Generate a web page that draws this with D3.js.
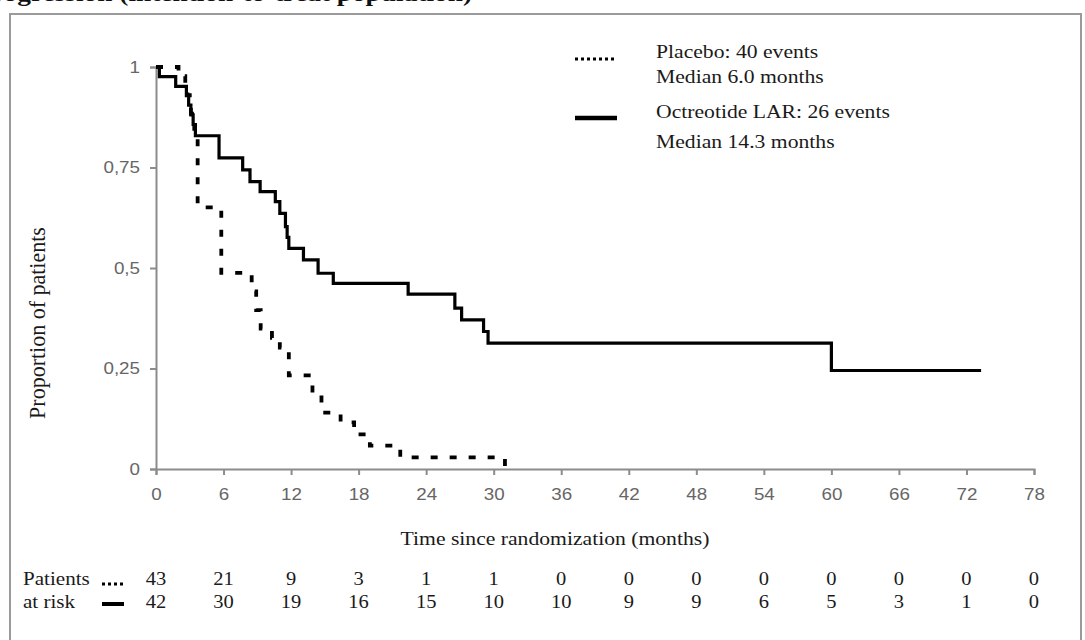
<!DOCTYPE html>
<html>
<head>
<meta charset="utf-8">
<script src="https://cdn.jsdelivr.net/npm/d3@7"></script>
<style>
  body { margin: 0; background: #fff; }
</style>
</head>
<body>
<div id="chart"></div>
<script>
const width = 1085
const height = 640
const margin = { left: 156, right: 51, top: 67, bottom: 171 }

// horizontal stretch of the scanned figure
const SX = 1.14
const serif = '"Liberation Serif", "Times New Roman", serif'
const sans = '"Liberation Sans", Arial, sans-serif'

// Kaplan-Meier steps (months, proportion)
const placeboTime = [0, 2.0, 2.6, 2.8, 3.0, 3.1, 3.2, 3.4, 3.7, 5.8, 8.5, 8.9, 9.3, 10.3, 11.0, 11.8, 13.9, 14.7, 16.4, 17.6, 19.0, 21.7, 31.0]
const placeboSurv = [1, .977, .953, .930, .907, .884, .860, .837, .651, .488, .442, .395, .349, .326, .302, .233, .186, .140, .116, .086, .058, .029, 0]
const placeboEnd = 31.3

const octreoTime = [0, 0.3, 1.75, 2.7, 2.9, 3.1, 3.3, 3.5, 5.6, 7.7, 8.35, 9.25, 10.6, 11.0, 11.5, 11.65, 11.8, 13.1, 14.4, 15.75, 22.4, 26.55, 27.15, 29.1, 29.5, 60]
const octreoSurv = [1, .976, .952, .929, .905, .881, .857, .829, .774, .744, .715, .690, .665, .636, .603, .576, .549, .520, .487, .462, .435, .400, .371, .342, .313, .245]
const octreoEnd = 73.3

const xTicks = [0, 6, 12, 18, 24, 30, 36, 42, 48, 54, 60, 66, 72, 78]
const yTicks = [0, 0.25, 0.5, 0.75, 1]
const riskPlacebo = [43, 21, 9, 3, 1, 1, 0, 0, 0, 0, 0, 0, 0, 0]
const riskOctreo = [42, 30, 19, 16, 15, 10, 10, 9, 9, 6, 5, 3, 1, 0]

const legendLines = [
    { dash: true, text: ["Placebo: 40 events", "Median 6.0 months"] },
    { dash: false, text: ["Octreotide LAR: 26 events", "Median 14.3 months"] }
]

const svg = d3.select("#chart").append("svg").attr("width", width).attr("height", height)
    .style("display", "block")

// outer frame
svg.append("rect")
    .attr("x", 10).attr("y", 14).attr("width", 1071).attr("height", 640)
    .attr("fill", "none").attr("stroke", "#9a9a9a").attr("stroke-width", 2)

// caption, cut off by the top edge as in the scan
svg.append("text")
    .text("Figure 2: Time to tumor progression (intention-to-treat population)")
    .attr("text-anchor", "end")
    .attr("transform", `translate(472, 1) scale(${SX},1)`)
    .attr("font-family", serif).attr("font-weight", "bold").attr("font-size", 24)
    .attr("fill", "#111")

const x = d3.scaleLinear().domain([0, 78]).range([margin.left, width - margin.right])
const y = d3.scaleLinear().domain([0, 1]).range([height - margin.bottom, margin.top])

const xGroup = svg.append("g").attr("transform", `translate(0, ${y(0)})`)
    .call(d3.axisBottom(x).tickValues(xTicks).tickSize(6).tickPadding(13))
const yGroup = svg.append("g").attr("transform", `translate(${x(0)}, 0)`)
    .call(d3.axisLeft(y).tickValues(yTicks).tickSize(6).tickPadding(8)
        .tickFormat(d => String(d).replace(".", ",")))

;[xGroup, yGroup].forEach(g => {
    g.select(".domain").attr("stroke", "#8c8c8c").attr("stroke-width", 2)
    g.selectAll(".tick line").attr("stroke", "#8c8c8c").attr("stroke-width", 2)
    g.selectAll(".tick text")
        .attr("fill", "#666").attr("font-size", 16.5).attr("font-family", sans)
        .attr("transform", `scale(${SX},1)`)
})

// curves
const line = d3.line().x(d => x(d[0])).y(d => y(d[1])).curve(d3.curveStepAfter)
const placeboPts = placeboTime.map((t, i) => [t, placeboSurv[i]]).concat([[placeboEnd, 0]])
const octreoPts = octreoTime.map((t, i) => [t, octreoSurv[i]]).concat([[octreoEnd, octreoSurv[octreoSurv.length - 1]]])

svg.append("path").datum(placeboPts)
    .attr("d", line).attr("fill", "none").attr("stroke", "#000")
    .attr("stroke-width", 3.8).attr("stroke-dasharray", "7,12")
svg.append("path").datum(octreoPts)
    .attr("d", line).attr("fill", "none").attr("stroke", "#000")
    .attr("stroke-width", 3.2).attr("stroke-linejoin", "miter")

// legend
const legend = svg.append("g")
legendLines.forEach((d, i) => {
    const ly = i == 0 ? 59 : 118
    legend.append("line")
        .attr("x1", 575).attr("x2", 617).attr("y1", ly).attr("y2", ly)
        .attr("stroke", "#000")
        .attr("stroke-width", d.dash ? 3 : 4.5)
        .attr("stroke-dasharray", d.dash ? "3,3" : null)
    const tops = i == 0 ? [58, 83] : [118, 148]
    d.text.forEach((t, j) => {
        legend.append("text").text(t)
            .attr("transform", `translate(656, ${tops[j]}) scale(${SX},1)`)
            .attr("font-family", serif).attr("font-size", 19).attr("fill", "#1a1a1a")
    })
})

// axis titles
svg.append("text").text("Time since randomization (months)")
    .attr("text-anchor", "middle")
    .attr("transform", `translate(555, 545) scale(${SX},1)`)
    .attr("font-family", serif).attr("font-size", 19).attr("fill", "#1a1a1a")

svg.append("text").text("Proportion of patients")
    .attr("text-anchor", "middle")
    .attr("transform", `translate(45, 323) rotate(-90) scale(1,1.06)`)
    .attr("font-family", serif).attr("font-size", 22).attr("fill", "#1a1a1a")

// patients at risk table
const risk = svg.append("g")
risk.append("text").text("Patients")
    .attr("transform", `translate(23, 585) scale(${SX},1)`)
    .attr("font-family", serif).attr("font-size", 18.5).attr("fill", "#1a1a1a")
risk.append("text").text("at risk")
    .attr("transform", `translate(23, 608) scale(${SX},1)`)
    .attr("font-family", serif).attr("font-size", 18.5).attr("fill", "#1a1a1a")
risk.append("line").attr("x1", 102).attr("x2", 124).attr("y1", 584).attr("y2", 584)
    .attr("stroke", "#000").attr("stroke-width", 3).attr("stroke-dasharray", "3,3")
risk.append("line").attr("x1", 102).attr("x2", 124).attr("y1", 604).attr("y2", 604)
    .attr("stroke", "#000").attr("stroke-width", 4)

;[[riskPlacebo, 585], [riskOctreo, 608]].forEach(([row, ry]) => {
    risk.selectAll(null)
        .data(row)
        .join("text")
            .text(d => d)
            .attr("text-anchor", "middle")
            .attr("transform", (d, i) => `translate(${x(xTicks[i])}, ${ry}) scale(${SX},1)`)
            .attr("font-family", serif).attr("font-size", 18).attr("fill", "#1a1a1a")
})
</script>
</body>
</html>
